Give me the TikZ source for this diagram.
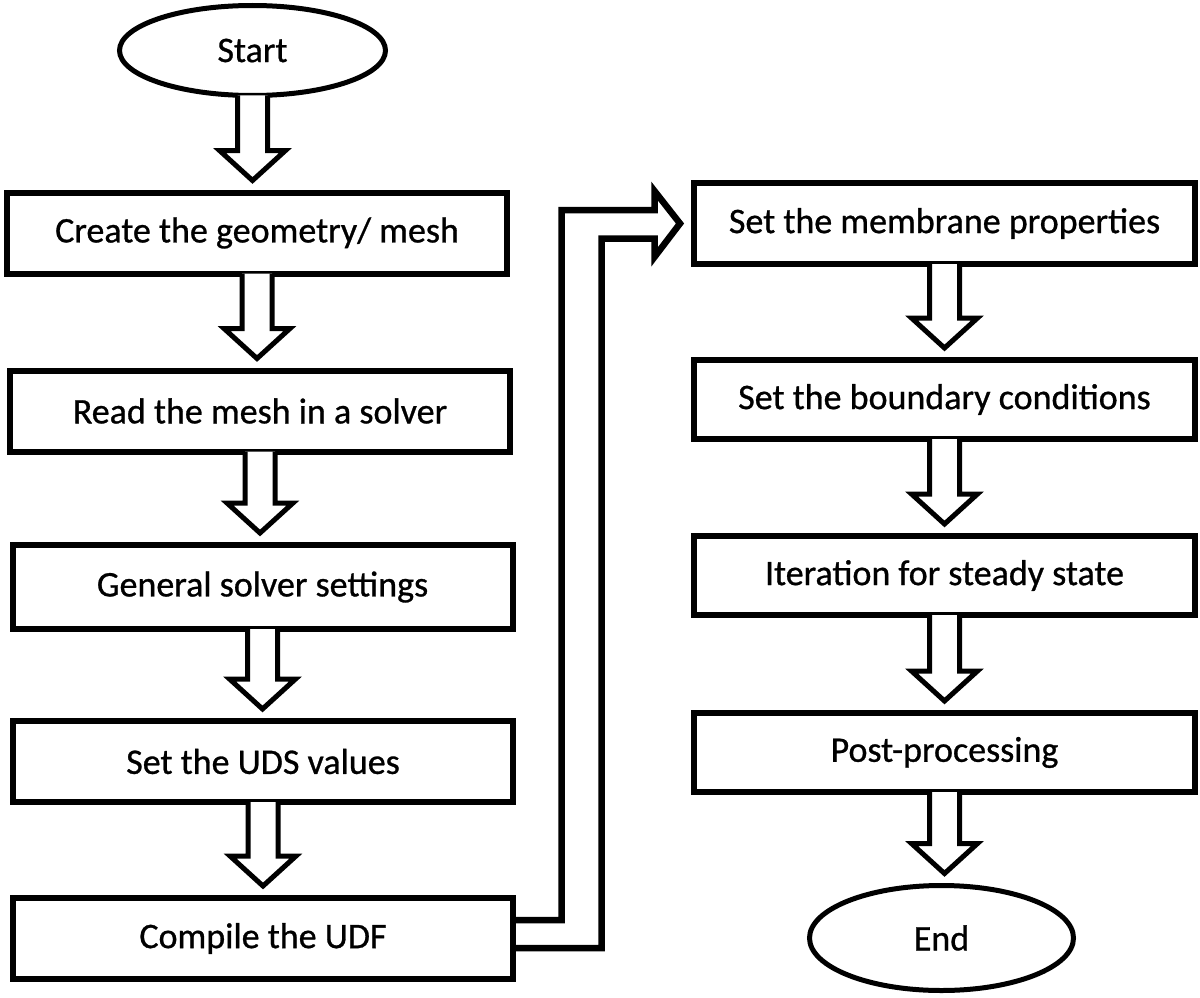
\documentclass[tikz,border=0pt]{standalone}
\usepackage{fontspec}
\setmainfont{Carlito}
\newfontfamily\diagfont{Carlito}[FakeBold=0.8]
\usetikzlibrary{shapes.geometric,calc}
\begin{document}
\begin{tikzpicture}[x=1pt,y=-1pt,
  stepbox/.style={draw=black,line width=6pt,rectangle,inner sep=0pt,outer sep=0pt,
    minimum width=500pt,minimum height=81pt,font=\diagfont\fontsize{36}{40}\selectfont},
  termnode/.style={draw=black,line width=5pt,ellipse,inner sep=0pt,outer sep=0pt,
    font=\diagfont\fontsize{36}{40}\selectfont},
  hollow/.style={draw=black,line width=5pt,line join=miter,fill=white},
  conn/.style={draw=black,line width=6.5pt,line join=miter}]
\useasboundingbox (0,0) rectangle (1200,998);
% left column
\node[termnode,minimum width=266pt,minimum height=90pt] (start) at (252.5,50.5) {Start};
\node[stepbox] (b1) at (257,233) {Create the geometry/ mesh};
\node[stepbox] (b2) at (260,411) {Read the mesh in a solver};
\node[stepbox,minimum height=84pt] (b3) at (262.5,587) {General solver settings};
\node[stepbox] (b4) at (263,761.5) {Set the UDS values};
\node[stepbox] (b5) at (263,938.5) {Compile the UDF};
% right column
\node[stepbox,minimum width=501pt] (b6) at (944.5,223.5) {Set the membrane properties};
\node[stepbox,minimum width=501pt,minimum height=79pt] (b7) at (944.5,399.5) {Set the boundary conditions};
\node[stepbox,minimum width=501pt,minimum height=79pt] (b8) at (944.5,575.5) {Iteration for steady state};
\node[stepbox,minimum width=501pt,minimum height=79pt] (b9) at (944.5,752.5) {Post-processing};
\node[termnode,minimum width=264pt,minimum height=105pt] (end) at (941.5,938) {End};
% hollow down arrows
\newcommand{\hollowdown}[2]{%
  \draw[hollow] let \p1=(#1.south), \p2=(#2.north) in
    (\x1-15pt,\y1) -- (\x1-15pt,\y2+42pt) -- (\x1-33pt,\y2+42pt) -- (\x1,\y2+12pt)
    -- (\x1+33pt,\y2+42pt) -- (\x1+15pt,\y2+42pt) -- (\x1+15pt,\y1);}
\hollowdown{start}{b1}
\hollowdown{b1}{b2}
\hollowdown{b2}{b3}
\hollowdown{b3}{b4}
\hollowdown{b4}{b5}
\hollowdown{b6}{b7}
\hollowdown{b7}{b8}
\hollowdown{b8}{b9}
\hollowdown{b9}{end}
% connector from left column to right column
\draw[conn] ([yshift=18.5pt]b5.east) -| (561.5,210) -- (654.5,210) -- (654.5,191)
  -- ([xshift=-14pt]b6.west) -- (654.5,257) -- (654.5,238.5) -- (601.5,238.5)
  |- ([yshift=-9.5pt]b5.east);
\end{tikzpicture}
\end{document}
